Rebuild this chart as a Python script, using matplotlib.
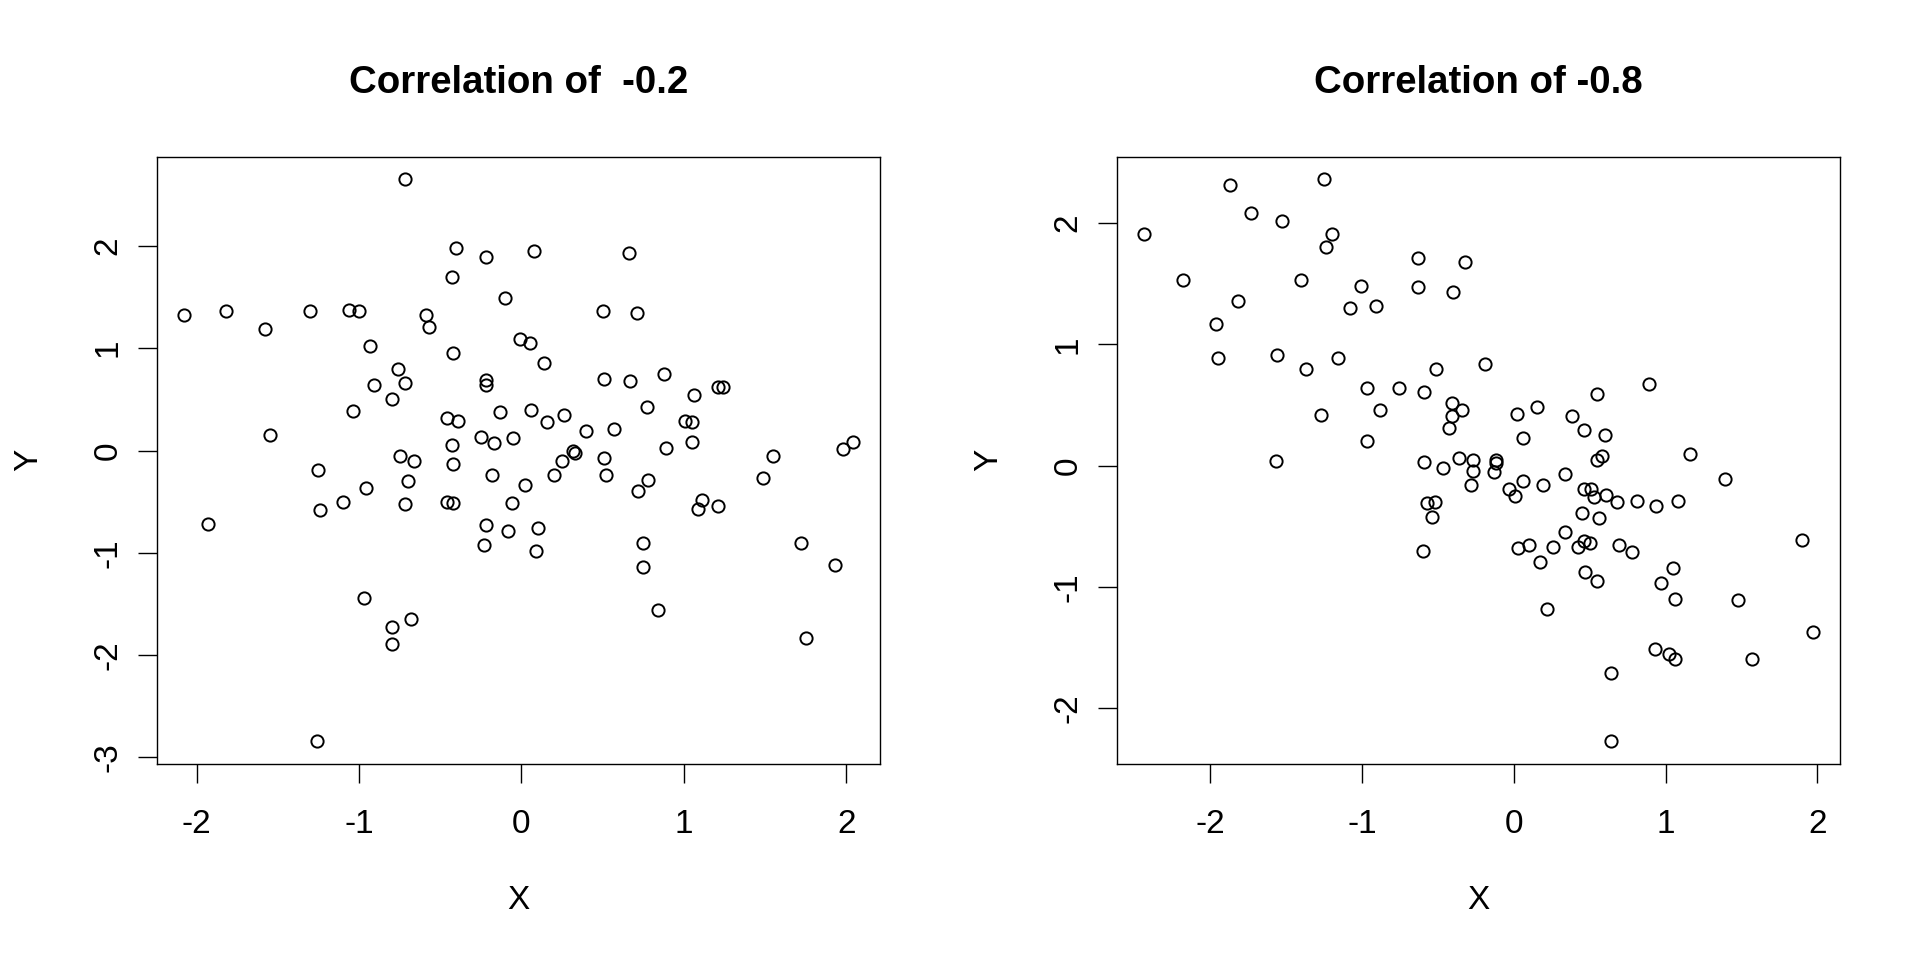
import numpy as np
import matplotlib.pyplot as plt

plt.rcParams['font.family'] = ['Liberation Sans', 'DejaVu Sans']

# Left panel: correlation of -0.2
x_weak = [-0.72, -0.40, -0.22, 0.08, 0.66, -0.43, -0.10, -2.08, -1.82, -1.58,
          -1.30, -1.06, -1.00, -0.59, -0.57, 0.50, 0.71, -0.01, 0.05, -0.93,
          -0.42, 0.14, -0.76, -0.72, -0.91, -0.80, -0.22, -0.22, 0.51, 0.67,
          0.88, 1.21, 1.24, 1.06, -1.04, 0.77, 0.06, -0.13, 0.26, -0.46,
          -0.39, 0.16, 1.01, 1.05, 0.40, 0.57, -1.55, -0.25, -0.05, -0.17,
          -0.43, 1.05, 1.98, 2.04, 0.32, 0.33, 0.89, -1.25, -0.75, -0.66,
          -0.42, 0.25, 0.51, 1.55, -0.18, 0.20, 0.52, -0.70, 0.02, 0.78,
          1.49, -0.96, 0.72, -1.24, -1.10, -0.72, -0.46, -0.42, -0.06, 1.11,
          1.09, 1.21, -1.93, -0.22, 0.10, -0.23, -0.08, 0.09, 0.75, 0.75,
          1.72, 1.93, -0.97, 0.84, -0.80, -0.68, -0.80, 1.75, -1.26]
y_weak = [2.65, 1.98, 1.89, 1.95, 1.93, 1.70, 1.49, 1.32, 1.36, 1.19,
          1.36, 1.37, 1.36, 1.32, 1.21, 1.36, 1.34, 1.09, 1.05, 1.02,
          0.95, 0.86, 0.80, 0.66, 0.64, 0.50, 0.69, 0.64, 0.70, 0.68,
          0.75, 0.62, 0.62, 0.54, 0.39, 0.43, 0.40, 0.38, 0.35, 0.32,
          0.29, 0.28, 0.29, 0.28, 0.19, 0.21, 0.15, 0.13, 0.12, 0.07,
          0.05, 0.08, 0.01, 0.08, 0.00, -0.02, 0.02, -0.19, -0.05, -0.10,
          -0.13, -0.10, -0.07, -0.05, -0.24, -0.24, -0.24, -0.30, -0.34, -0.29,
          -0.27, -0.37, -0.40, -0.58, -0.50, -0.52, -0.50, -0.51, -0.51, -0.48,
          -0.57, -0.54, -0.72, -0.73, -0.76, -0.92, -0.79, -0.98, -0.90, -1.14,
          -0.90, -1.12, -1.44, -1.56, -1.72, -1.65, -1.89, -1.83, -2.84]

# Right panel: correlation of -0.8
x_strong = [-2.44, -2.18, -1.87, -1.73, -1.53, -1.25, -1.20, -1.24, -1.96, -1.82,
            -1.40, -1.95, -1.56, -1.37, -1.16, -1.01, -1.08, -0.91, -0.63, -0.63,
            -0.32, -0.40, -0.19, -0.51, -0.97, -0.76, -0.59, -1.27, -0.88, -0.41,
            -0.41, -0.34, -0.43, -0.97, -1.57, -0.59, -0.47, -0.36, -0.27, -0.27,
            -0.28, -0.12, -0.12, -0.13, -0.57, -0.52, -0.54, -0.60, 0.02, 0.15,
            0.06, 0.38, 0.55, 0.89, 0.46, 0.60, 0.55, 0.58, 1.16, -0.03,
            0.01, 0.06, 0.19, 0.34, 0.46, 0.51, 0.53, 0.61, 0.68, 0.81,
            0.94, 1.08, 1.39, 0.45, 0.56, 0.03, 0.10, 0.17, 0.26, 0.34,
            0.42, 0.46, 0.50, 0.69, 0.78, 0.47, 0.55, 0.97, 1.05, 1.06,
            0.22, 1.48, 1.90, 1.97, 0.93, 1.02, 1.06, 1.57, 0.64, 0.64]
y_strong = [1.91, 1.53, 2.31, 2.08, 2.02, 2.36, 1.91, 1.80, 1.17, 1.36,
            1.53, 0.89, 0.91, 0.80, 0.89, 1.48, 1.30, 1.32, 1.71, 1.47,
            1.68, 1.43, 0.84, 0.80, 0.64, 0.64, 0.61, 0.42, 0.46, 0.52,
            0.41, 0.46, 0.31, 0.20, 0.04, 0.03, -0.02, 0.06, 0.05, -0.04,
            -0.16, 0.05, 0.02, -0.05, -0.31, -0.30, -0.42, -0.70, 0.43, 0.48,
            0.23, 0.41, 0.59, 0.67, 0.29, 0.25, 0.05, 0.08, 0.10, -0.19,
            -0.25, -0.13, -0.16, -0.07, -0.19, -0.19, -0.26, -0.24, -0.30, -0.29,
            -0.33, -0.29, -0.11, -0.39, -0.43, -0.68, -0.65, -0.79, -0.67, -0.55,
            -0.67, -0.62, -0.64, -0.65, -0.71, -0.88, -0.95, -0.97, -0.84, -1.10,
            -1.18, -1.11, -0.61, -1.37, -1.51, -1.55, -1.59, -1.59, -1.71, -2.27]

titles = ['Correlation of  -0.2', 'Correlation of -0.8']
x_ticks = [-2, -1, 0, 1, 2]
y_ticks_left = [-3, -2, -1, 0, 1, 2]
y_ticks_right = [-2, -1, 0, 1, 2]

fig = plt.figure(figsize=(19.2, 9.6), dpi=100)
ax1 = fig.add_axes([0.0817, 0.2046, 0.3764, 0.632])
ax2 = fig.add_axes([0.5817, 0.2046, 0.3764, 0.632])

panels = [(ax1, x_weak, y_weak, titles[0], y_ticks_left),
          (ax2, x_strong, y_strong, titles[1], y_ticks_right)]

for ax, xs, ys, title, yt in panels:
    ax.plot(xs, ys, ls='none', marker='o', ms=8.8, mfc='none', mec='black', mew=1.4)
    ax.margins(0.04)
    ax.set_xticks(x_ticks)
    ax.set_yticks(yt)
    ax.set_xticklabels([str(v) for v in x_ticks])
    ax.set_yticklabels([str(v) for v in yt])
    for s in ax.spines.values():
        s.set_linewidth(1.0)
    ax.tick_params(direction='out', length=13.7, width=1.0, labelsize=24)
    ax.tick_params(axis='x', pad=19)
    ax.tick_params(axis='y', pad=10.5)
    for lab in ax.get_yticklabels():
        lab.set_rotation(90)
        lab.set_va('center')
    ax.text(0.5, -0.225, 'X', transform=ax.transAxes, ha='center', va='center', fontsize=24)
    ax.text(-0.178, 0.5, 'Y', transform=ax.transAxes, ha='center', va='center',
            rotation=90, fontsize=24)
    ax.text(0.5, 1.1055, title, transform=ax.transAxes, ha='center', va='baseline',
            fontsize=27.6, fontweight='bold')

plt.savefig('out.png', dpi=100)
